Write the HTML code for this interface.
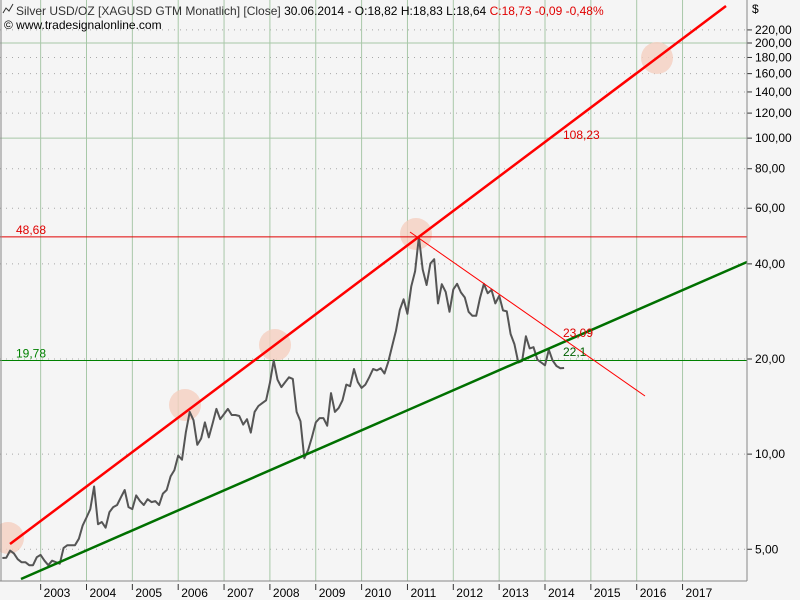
<!DOCTYPE html>
<html><head><meta charset="utf-8">
<style>
body{margin:0;background:#f4f4f4;}
svg{display:block;font-family:"Liberation Sans",sans-serif;}
</style></head>
<body>
<svg id="chart" width="800" height="600">
<rect x="0" y="0" width="800" height="600" fill="#f5f5f5"/>
<g id="grid"></g>
<g id="overlay"></g>
<g id="axes"></g>
</svg>
<script>
const years=[2003,2004,2005,2006,2007,2008,2009,2010,2011,2012,2013,2014,2015,2016,2017];
const priceTicks=[5,10,20,40,60,80,100,120,140,160,180,200,220];
const priceTickLabels=["5,00","10,00","20,00","40,00","60,00","80,00","100,00","120,00","140,00","160,00","180,00","200,00","220,00"];
const startYear=2002, startMonth=2;
const closes=[4.69,4.7,4.95,4.85,4.65,4.55,4.55,4.45,4.45,4.72,
4.8,4.6,4.45,4.6,4.55,4.5,5.05,5.15,5.15,5.15,5.4,5.95,
6.3,6.7,7.9,6.0,6.1,5.85,6.55,6.8,6.9,7.3,7.7,6.8,
6.7,7.4,7.1,6.9,7.2,7.05,7.1,6.9,7.5,7.7,8.5,8.9,
9.9,9.6,11.7,13.6,12.8,10.7,11.2,12.6,11.3,12.5,13.9,12.9,
13.4,13.9,13.3,13.3,13.2,12.4,12.9,11.7,13.6,14.2,14.5,14.8,
16.8,19.8,17.2,16.3,16.9,17.5,17.3,13.6,12.7,9.7,10.3,11.3,
12.6,13.0,13.0,12.3,15.6,13.6,14.0,14.8,16.6,16.4,18.6,16.9,
16.2,16.6,17.5,18.6,18.4,18.7,18.0,19.6,22.0,24.6,28.6,30.9,
27.8,34.0,37.9,48.7,38.4,34.3,40.1,41.4,30.0,34.5,32.6,28.2,
33.2,34.6,32.5,31.3,28.2,27.4,27.4,31.2,34.6,32.3,33.1,30.0,
31.7,28.5,28.3,24.0,22.3,19.5,19.7,23.6,21.6,21.8,19.9,19.5,
19.1,21.4,19.8,19.0,18.7,18.73];
const levels=[48.68,19.78];
const levelLabels=["48,68","19,78"];

const NS="http://www.w3.org/2000/svg";
function xT(t){return 86.5+(t-2004)*45.85;}
function yP(p){return 359-316*Math.log10(p/20);}
function mk(tag,attrs,parent,text){const e=document.createElementNS(NS,tag);for(const k in attrs)e.setAttribute(k,attrs[k]);if(text!==undefined)e.textContent=text;parent.appendChild(e);return e;}
const grid=document.getElementById('grid'),ov=document.getElementById('overlay'),ax=document.getElementById('axes');
priceTicks.forEach((p,i)=>{
  const y=yP(p);const solid=(p===100||p===200);
  const l=mk('line',{x1:0,x2:747,y1:y,y2:y,stroke:solid?'#a8c8a8':'#a8a8a8','stroke-width':1,'stroke-dasharray':solid?'':'1,5'},grid);
  
  
  const t=mk('line',{x1:747,x2:752,y1:y,y2:y,stroke:'#333'},ax);
  
  
  const tx=mk('text',{x:755,y:y+4,'font-size':12,fill:'#000'},ax,priceTickLabels[i]);
  
  
});
years.forEach(yr=>{
  const x=xT(yr);
  const l=mk('line',{x1:x,x2:x,y1:0,y2:581,stroke:'#a8c8a8','stroke-width':1},grid);
  
  
  const t=mk('line',{x1:x,x2:x,y1:584,y2:590,stroke:'#333'},ax);
  
  
  const tx=mk('text',{x:x+3,y:597,'font-size':12,fill:'#000'},ax,String(yr));
  
  
});
[[8,538],[185,405],[275,345],[416,234],[657,58]].forEach(c=>{
  const e=mk('circle',{cx:c[0],cy:c[1],r:16,fill:'#f5cfc0','fill-opacity':0.8},ov);
  
  
});
const cols=['#e00000','#008000'];
levels.forEach((v,i)=>{
  const y=yP(v);
  const l=mk('line',{x1:0,x2:747,y1:y,y2:y,stroke:cols[i],'stroke-width':1},ov);
  
  
  const t=mk('text',{x:16,y:y-3,'font-size':12,fill:cols[i]},ov,levelLabels[i]);
  
  
});
const pts=closes.map((p,i)=>{const t=startYear+(startMonth+i)/12;return xT(t).toFixed(1)+','+yP(p).toFixed(1);}).join(' ');
const pl=mk('polyline',{points:pts,fill:'none',stroke:'#555','stroke-width':2,'stroke-linejoin':'round'},ov);


const r=mk('line',{x1:10,y1:544,x2:726,y2:6,stroke:'#f00','stroke-width':2.5},ov);


const g=mk('line',{x1:21,y1:579,x2:747,y2:262,stroke:'#007000','stroke-width':2.5},ov);


const d=mk('line',{x1:410,y1:232,x2:645,y2:396,stroke:'#f00','stroke-width':1},ov);


[[563,139,'108,23','#e00000'],[563,337,'23,09','#e00000'],[563,356,'22,1','#006000']].forEach(a=>{
  const t=mk('text',{x:a[0],y:a[1],'font-size':12,fill:a[3]},ov,a[2]);
  
  
});
const b1=mk('line',{x1:747,x2:747,y1:0,y2:581,stroke:'#888'},ax);


const b2=mk('line',{x1:0,x2:747,y1:581,y2:581,stroke:'#888'},ax);


const b3=mk('line',{x1:1,x2:1,y1:0,y2:581,stroke:'#888'},ax);


const cur=mk('text',{x:752,y:13,'font-size':12,fill:'#000'},ax,'$');


const h=mk('text',{x:16,y:15,'font-size':12,fill:'#000'},ax);


mk('tspan',{fill:'#333'},h,'Silver USD/OZ [XAGUSD GTM  Monatlich] [Close] ');
mk('tspan',{},h,'30.06.2014 - O:18,82 H:18,83 L:18,64 ');
mk('tspan',{fill:'#e00000'},h,'C:18,73 -0,09 -0,48%');
const ic=mk('polyline',{points:'3,13 6,8 9,11 13,4',fill:'none',stroke:'#333','stroke-width':1},ax);


const w=mk('text',{x:4,y:29,'font-size':12,fill:'#000'},ax,'© www.tradesignalonline.com');


</script>
</body></html>
